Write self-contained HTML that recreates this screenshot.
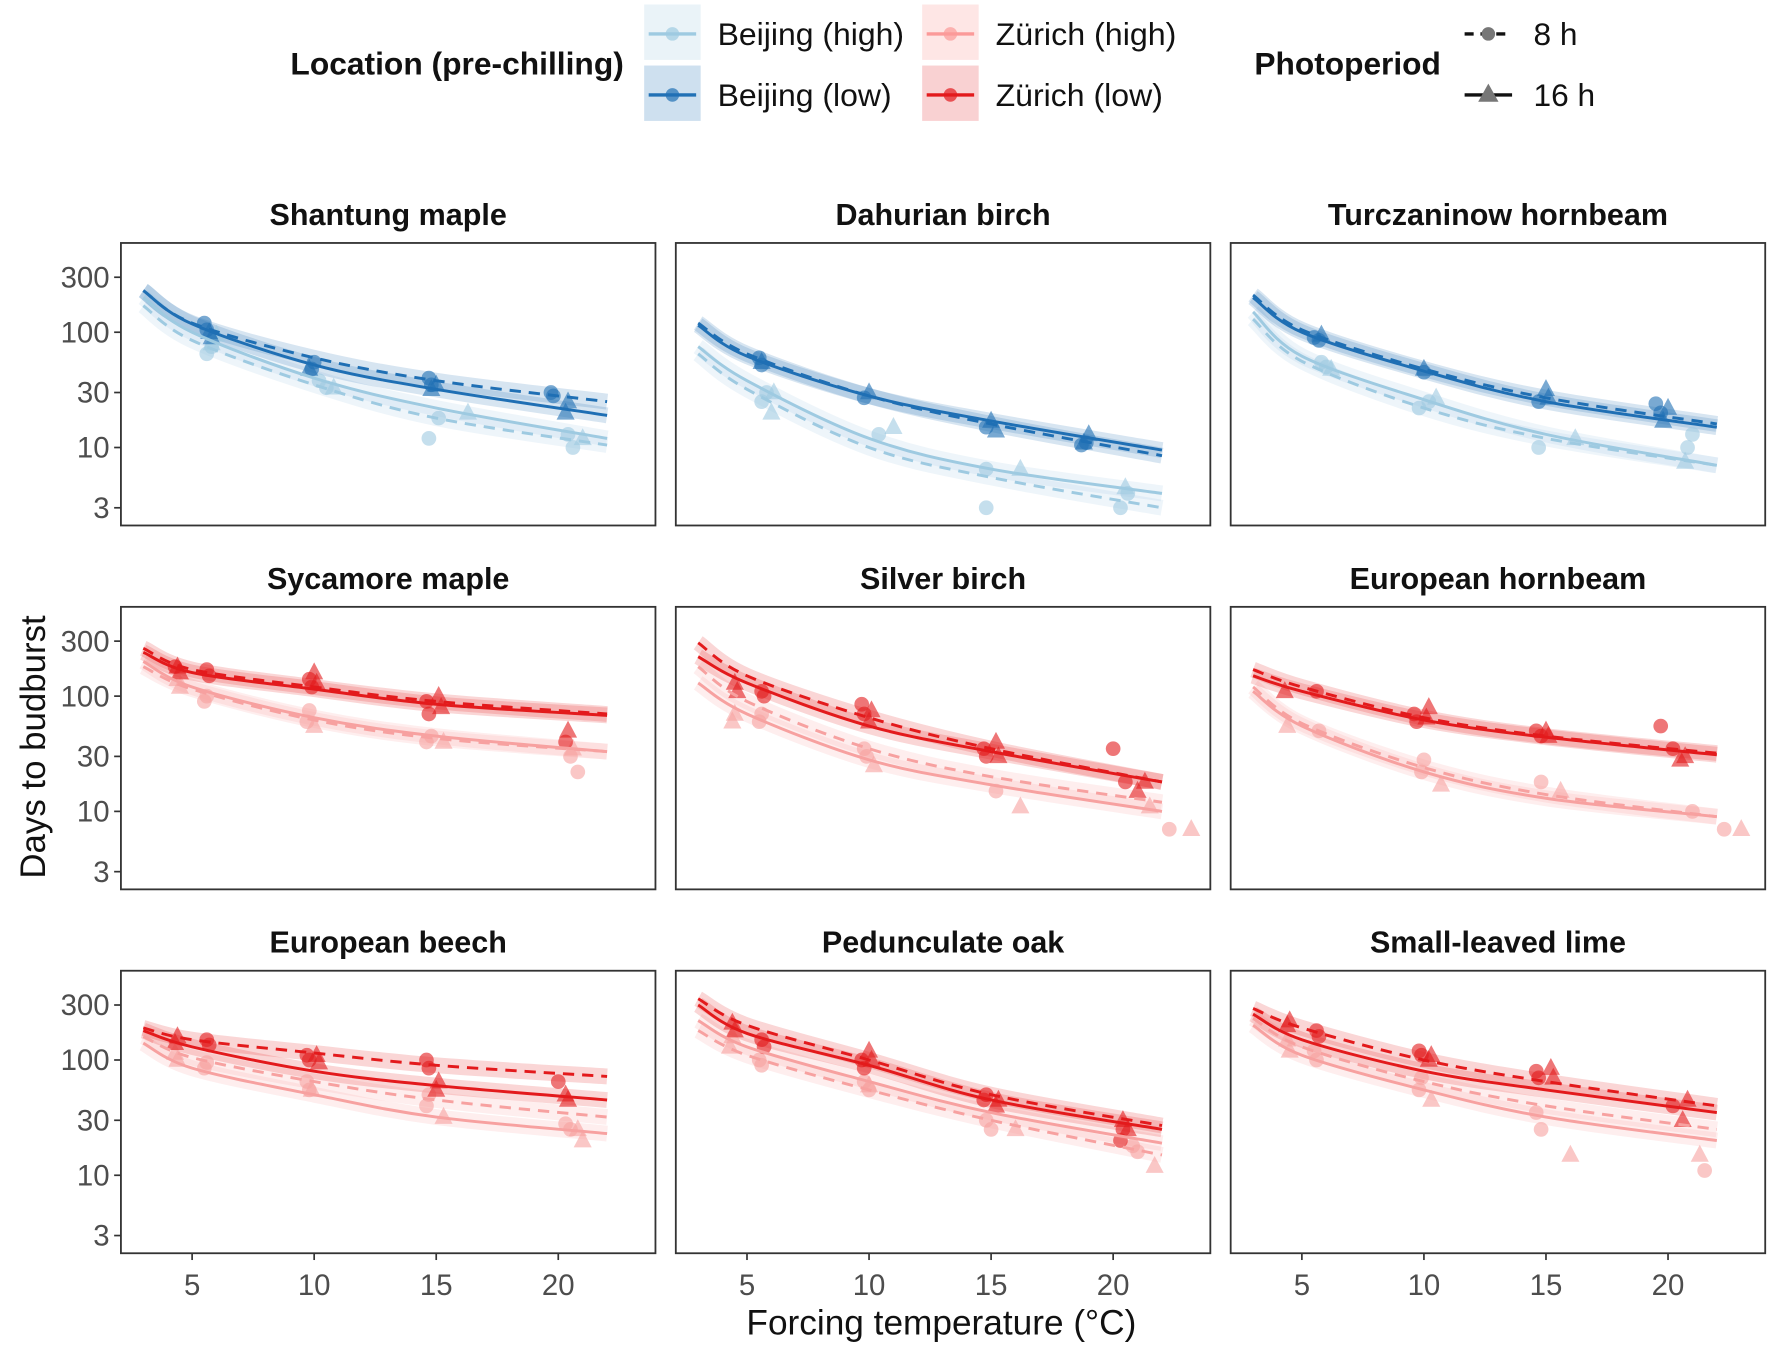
<!DOCTYPE html>
<html><head><meta charset="utf-8">
<style>
html,body{margin:0;padding:0;background:#fff;}
svg{display:block;font-family:"Liberation Sans",Arial,sans-serif;}
</style></head>
<body>
<svg id="chart" width="1772" height="1351" viewBox="0 0 1568 1195.5" preserveAspectRatio="none" xmlns="http://www.w3.org/2000/svg">
<g id="legend">
  <text x="257" y="66" font-size="28" font-weight="bold" fill="#111" textLength="295" lengthAdjust="spacingAndGlyphs">Location (pre-chilling)</text>
  <rect x="570" y="4" width="50" height="49" fill="#9ecae1" opacity="0.22"/>
  <line x1="574" y1="30" x2="616" y2="30" stroke="#9ecae1" stroke-width="3"/>
  <circle cx="595" cy="30" r="6" fill="#9ecae1" opacity="0.7"/>
  <text x="635" y="40" font-size="28" fill="#111" textLength="165" lengthAdjust="spacingAndGlyphs">Beijing (high)</text>
  <rect x="570" y="58" width="50" height="49" fill="#2171b5" opacity="0.22"/>
  <line x1="574" y1="84" x2="616" y2="84" stroke="#2171b5" stroke-width="3"/>
  <circle cx="595" cy="84" r="6" fill="#2171b5" opacity="0.7"/>
  <text x="635" y="94" font-size="28" fill="#111" textLength="154" lengthAdjust="spacingAndGlyphs">Beijing (low)</text>
  <rect x="816" y="4" width="50" height="49" fill="#fb9a99" opacity="0.25"/>
  <line x1="820" y1="30" x2="862" y2="30" stroke="#fb9a99" stroke-width="3"/>
  <circle cx="841" cy="30" r="6" fill="#fb9a99" opacity="0.7"/>
  <text x="881" y="40" font-size="28" fill="#111" textLength="160" lengthAdjust="spacingAndGlyphs">Zürich (high)</text>
  <rect x="816" y="58" width="50" height="49" fill="#e31a1c" opacity="0.2"/>
  <line x1="820" y1="84" x2="862" y2="84" stroke="#e31a1c" stroke-width="3"/>
  <circle cx="841" cy="84" r="6" fill="#e31a1c" opacity="0.7"/>
  <text x="881" y="94" font-size="28" fill="#111" textLength="148" lengthAdjust="spacingAndGlyphs">Zürich (low)</text>
  <text x="1110" y="66" font-size="28" font-weight="bold" fill="#111" textLength="165" lengthAdjust="spacingAndGlyphs">Photoperiod</text>
  <line x1="1296" y1="30" x2="1338" y2="30" stroke="#111" stroke-width="3" stroke-dasharray="8,6"/>
  <circle cx="1317" cy="30" r="6" fill="#777"/>
  <text x="1357" y="40" font-size="28" fill="#111">8 h</text>
  <line x1="1296" y1="84" x2="1338" y2="84" stroke="#111" stroke-width="3"/>
  <polygon points="1317,74 1326,90 1308,90" fill="#777"/>
  <text x="1357" y="94" font-size="28" fill="#111">16 h</text>
</g>
<text x="833" y="1181" font-size="31" fill="#111" text-anchor="middle" textLength="345" lengthAdjust="spacingAndGlyphs">Forcing temperature (°C)</text>
<text transform="translate(40,661) rotate(-90)" font-size="31" fill="#111" text-anchor="middle" textLength="233" lengthAdjust="spacingAndGlyphs">Days to budburst</text>
<g id="panels"></g>
</svg>
<script>
// ---- data ----
const panelTitles = ["Shantung maple","Dahurian birch","Turczaninow hornbeam","Sycamore maple","Silver birch","European hornbeam","European beech","Pedunculate oak","Small-leaved lime"];
const curveTemps = [3,5,10,15,22];
const xTicks = [5,10,15,20];
const yTicks = [3,10,30,100,300];
// curve values per panel: [highDashed, highSolid, lowDashed, lowSolid]
const highDashed = [[170,85,35,18,10.5],[65,32,10,5.5,3],[130,56,22,12,7],[180,115,62,43,33],[180,90,35,20,12],[120,58,24,14,9],[160,105,65,45,32],[180,110,55,30,15],[230,130,65,40,25]];
const highSolid  = [[200,100,40,22,12],[75,38,12,6.5,4],[150,62,26,13,7],[200,120,65,45,33],[130,70,28,17,10],[110,55,22,13,9],[140,85,50,32,23],[220,130,65,35,19],[200,110,55,32,20]];
const lowDashed  = [[230,120,60,38,25],[120,65,28,16,8.5],[210,105,48,27,16],[260,170,120,90,70],[290,150,65,35,18],[170,120,65,45,32],[190,150,115,90,72],[340,200,100,50,27],[280,190,100,65,40]];
const lowSolid   = [[230,118,52,32,19],[115,62,28,17,9.5],[200,100,46,25,15],[240,160,115,85,68],[220,130,55,33,18],[150,110,62,44,31],[180,130,80,60,45],[300,170,90,45,25],[250,150,80,55,35]];
// observed points per panel
const ptsHighCircT = [[5.6,5.8,10.5,10.2,14.7,15.1,20.6,20.4],[5.8,5.6,10.4,14.8,14.8,20.3,20.6],[6,5.8,9.8,10.2,14.7,21,20.8],[5.6,5.5,9.8,9.7,14.8,14.6,20.5,20.8],[5.6,5.5,9.9,9.8,15.2,22.3],[5.7,9.9,10,14.8,21,22.3],[5.6,5.5,9.7,9.8,14.7,14.6,20.3,20.5],[5.5,5.6,10,9.8,15,14.8,21,20.8],[5.6,5.5,9.8,9.9,14.8,14.6,21.5]];
const ptsHighCircV = [[65,75,33,38,12,18,10,13],[30,25,13,6.5,3,3,4],[50,55,22,25,10,13,10],[100,90,75,60,45,40,30,22],[70,60,30,35,15,7],[50,22,28,18,10,7],[95,85,65,55,50,40,28,25],[100,90,55,65,25,30,16,18],[100,120,55,70,25,35,11]];
const ptsHighTriT = [[5.8,6,10.8,16.3,21],[6,6.1,11,16.2,20.5],[6.2,10.5,16.2,20.7],[4.5,4.4,10,15.3,20.6],[4.4,4.5,10.2,16.2,23.2,21.5],[4.4,10.7,15.6,23],[4.4,4.3,9.9,15.3,21,20.8],[4.3,4.4,10,16,21.7],[4.5,4.4,10.3,16,21.3]];
const ptsHighTriV = [[80,95,33,20,12],[20,30,15,6.5,4.5],[48,27,12,7.5],[120,140,55,40,35],[60,70,25,11,7,11],[55,17,15,7],[100,115,55,32,20,25],[130,160,60,25,12],[120,150,45,15,15]];
const ptsLowCircT = [[5.5,5.6,10,9.9,14.7,14.8,19.7,19.8],[5.5,5.6,9.8,14.8,18.7,18.9],[5.5,5.7,10,14.7,19.7,19.5],[4.3,5.6,5.7,9.8,9.9,14.6,14.7,20.3],[5.6,5.7,9.7,9.8,14.7,14.8,20,20.5],[5.6,9.6,9.7,14.6,14.8,19.7,20.2],[5.6,5.7,9.7,9.8,14.6,14.7,20],[5.6,5.7,9.7,9.8,14.8,14.7,20.4,20.3],[5.6,5.7,9.8,9.9,14.6,14.7,20.2]];
const ptsLowCircV = [[120,105,55,48,40,35,30,28],[60,52,27,15,10.5,11],[90,85,45,25,20,24],[180,170,150,140,120,90,70,40],[110,100,85,70,35,30,35,18],[110,70,60,50,45,55,35],[150,135,110,100,100,85,65],[150,130,100,85,50,45,25,20],[180,160,120,110,80,70,40]];
const ptsLowTriT = [[5.7,5.8,9.8,14.8,15,20.3,20.4],[5.6,10,15,15.2,19,18.8],[5.8,10,15,15.1,19.8,20],[4.4,4.5,10,10.1,15.1,15.2,20.4],[4.5,4.6,10,10.1,15.2,15.3,21,21.3],[4.3,10.1,10.2,15,15.1,20.5,20.7],[4.3,4.4,10.2,10.1,15.1,15,20.4,20.3],[4.5,4.4,10,10.1,15.3,15.2,20.4,20.6],[4.4,4.5,10.2,10.3,15.3,15.2,20.6,20.8]];
const ptsLowTriV = [[100,90,48,32,35,20,25],[55,30,17,14,13,11],[95,48,32,27,17,22],[180,160,160,130,100,80,50],[130,110,60,75,40,30,15,18],[110,65,80,50,45,28,30],[140,160,95,110,65,55,45,50],[180,210,120,100,45,40,30,25],[200,220,100,110,70,85,30,45]];

// ---- layout ----
const colX = [107,598,1089], rowY = [215,537,859], PW = 473, PH = 250;
const xScale = (T, c) => colX[c] + 63 + (T - 5) * 21.6;
const yScale = (v, r) => rowY[r] + 79 - 102 * Math.log10(v / 100);
const NS = "http://www.w3.org/2000/svg";
function mk(tag, attrs, parent){const e=document.createElementNS(NS,tag);for(const k in attrs)e.setAttribute(k,attrs[k]);parent.appendChild(e);return e;}
function pathFrom(pts){
  let d="M"+pts[0][0]+","+pts[0][1];
  for(let i=0;i<pts.length-1;i++){
    const p0=pts[Math.max(0,i-1)],p1=pts[i],p2=pts[i+1],p3=pts[Math.min(pts.length-1,i+2)];
    const c1=[p1[0]+(p2[0]-p0[0])/6,p1[1]+(p2[1]-p0[1])/6];
    const c2=[p2[0]-(p3[0]-p1[0])/6,p2[1]-(p3[1]-p1[1])/6];
    d+=" C"+c1[0]+","+c1[1]+" "+c2[0]+","+c2[1]+" "+p2[0]+","+p2[1];
  }
  return d;
}
const root = document.getElementById("panels");
const blueL="#9ecae1", blueD="#1f6fb4", redL="#f7a1a0", redD="#e31a1c";
for(let p=0;p<9;p++){
  const r=Math.floor(p/3), c=p%3;
  const isBJ = r===0;
  const cl = isBJ?blueL:redL, cd = isBJ?blueD:redD;
  const g = mk("g",{},root);
  
  
  const t = mk("text",{x:colX[c]+PW/2,y:rowY[r]-16,"font-size":"27","font-weight":"bold","text-anchor":"middle",fill:"#111"},g);
  t.textContent = panelTitles[p];
  
  
  mk("rect",{x:colX[c],y:rowY[r],width:PW,height:PH,fill:"#fff"},g);
  if(c===0){
    yTicks.forEach(v=>{
      const y=yScale(v,r);
      mk("line",{x1:colX[c]-6,x2:colX[c],y1:y,y2:y,stroke:"#333","stroke-width":"1.5"},g);
      const tx=mk("text",{x:colX[c]-10,y:y+9,"font-size":"26","text-anchor":"end",fill:"#4d4d4d"},g);
      tx.textContent=v;
      
      
    });
  }
  if(r===2){
    xTicks.forEach(T=>{
      const x=xScale(T,c);
      mk("line",{x1:x,x2:x,y1:rowY[r]+PH,y2:rowY[r]+PH+6,stroke:"#333","stroke-width":"1.5"},g);
      const tx=mk("text",{x:x,y:rowY[r]+PH+37,"font-size":"26","text-anchor":"middle",fill:"#4d4d4d"},g);
      tx.textContent=T;
      
      
    });
  }
  const curves=[[highDashed[p],cl,true,'curve-high-8h'],[highSolid[p],cl,false,'curve-high-16h'],[lowDashed[p],cd,true,'curve-low-8h'],[lowSolid[p],cd,false,'curve-low-16h']];
  curves.forEach(([vals,col,dash,name])=>{
    const pts=curveTemps.map((T,i)=>[xScale(T,c),yScale(vals[i],r)]);
    const band=mk("path",{d:pathFrom(pts),fill:"none",stroke:col,"stroke-width":"14",opacity:"0.18","stroke-linecap":"butt"},g);
    
    
  });
  const drawPts=(Ts,Vs,col,tri,name)=>{
    Ts.forEach((T,i)=>{
      const x=xScale(T,c), y=yScale(Vs[i],r);
      let e;
      if(tri) e=mk("polygon",{points:`${x},${y-9} ${x+8},${y+6} ${x-8},${y+6}`,fill:col,opacity:"0.6"},g);
      else e=mk("circle",{cx:x,cy:y,r:6.5,fill:col,opacity:"0.6"},g);
      
      
    });
  };
  drawPts(ptsHighCircT[p],ptsHighCircV[p],cl,false,'point-high-8h');
  drawPts(ptsHighTriT[p],ptsHighTriV[p],cl,true,'point-high-16h');
  drawPts(ptsLowCircT[p],ptsLowCircV[p],cd,false,'point-low-8h');
  drawPts(ptsLowTriT[p],ptsLowTriV[p],cd,true,'point-low-16h');
  curves.forEach(([vals,col,dash,name])=>{
    const pts=curveTemps.map((T,i)=>[xScale(T,c),yScale(vals[i],r)]);
    const a={d:pathFrom(pts),fill:"none",stroke:col,"stroke-width":"2.6"};
    if(dash)a["stroke-dasharray"]="10,7";
    const e=mk("path",a,g);
    
    
  });
  mk("rect",{x:colX[c],y:rowY[r],width:PW,height:PH,fill:"none",stroke:"#333","stroke-width":"1.6"},g);
}
</script>
</body></html>
